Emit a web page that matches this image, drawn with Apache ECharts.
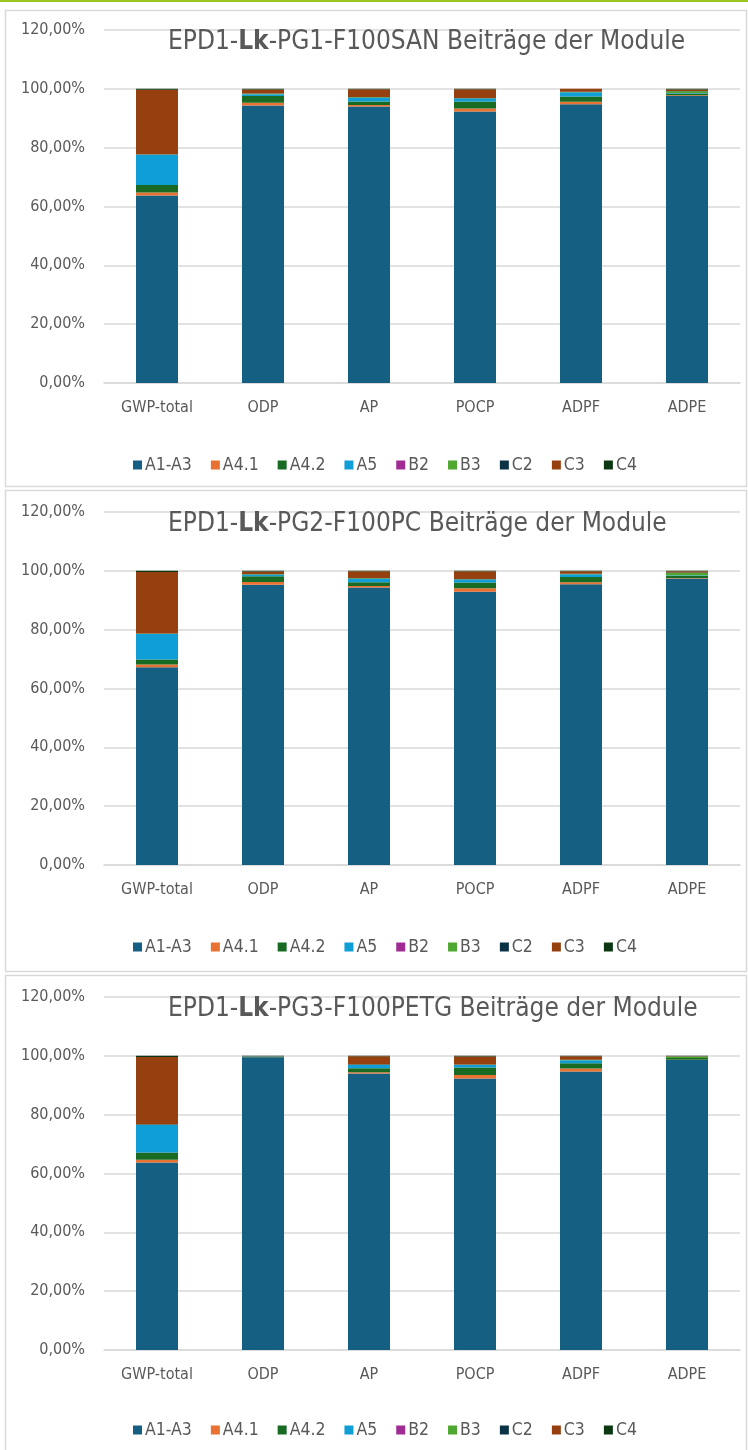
<!DOCTYPE html>
<html><head><meta charset="utf-8">
<script src="https://cdn.jsdelivr.net/npm/echarts@6/dist/echarts.min.js"></script>
<style>html,body{margin:0;padding:0;background:#fff}#c{width:748px;height:1450px}</style>
</head><body><div id="c"></div>
<script>
const categories = ['GWP-total','ODP','AP','POCP','ADPF','ADPE'];
const modules = ['A1-A3','A4.1','A4.2','A5','B2','B3','C2','C3','C4'];
const titles = ['PG1-F100SAN','PG2-F100PC','PG3-F100PETG'];

// PG1-F100SAN
const pg1_A1A3 = [63.7, 94.3, 94.0, 92.3, 94.8, 97.6];
const pg1_A41  = [1.1, 1.0, 0.5, 1.0, 0.8, 0.2];
const pg1_A42  = [2.5, 2.3, 1.2, 2.4, 1.8, 0.6];
const pg1_A5   = [10.3, 0.6, 1.3, 1.0, 1.4, 0.2];
const pg1_B2   = [0, 0, 0, 0, 0, 0];
const pg1_B3   = [0.1, 0.1, 0.1, 0.1, 0.1, 0.6];
const pg1_C2   = [0.1, 0.1, 0.1, 0.1, 0.1, 0.1];
const pg1_C3   = [21.9, 1.4, 2.7, 3.0, 1.0, 0.5];
const pg1_C4   = [0.3, 0.2, 0.1, 0.1, 0.0, 0.2];

// PG2-F100PC
const pg2_A1A3 = [67.2, 95.3, 94.3, 92.9, 95.4, 97.4];
const pg2_A41  = [1.0, 0.9, 0.55, 1.15, 0.7, 0.2];
const pg2_A42  = [1.7, 2.0, 1.25, 2.0, 1.8, 0.7];
const pg2_A5   = [8.6, 0.5, 1.25, 1.0, 0.9, 0.2];
const pg2_B2   = [0, 0, 0, 0, 0, 0];
const pg2_B3   = [0.1, 0.1, 0.1, 0.1, 0.1, 0.8];
const pg2_C2   = [0.1, 0.1, 0.1, 0.1, 0.1, 0.1];
const pg2_C3   = [20.9, 0.9, 2.35, 2.65, 0.9, 0.5];
const pg2_C4   = [0.4, 0.2, 0.1, 0.1, 0.1, 0.1];

// PG3-F100PETG
const pg3_A1A3 = [63.7, 99.5, 94.0, 92.3, 94.7, 98.6];
const pg3_A41  = [1.0, 0.05, 0.45, 1.15, 1.0, 0.05];
const pg3_A42  = [2.4, 0.25, 1.35, 2.6, 1.8, 0.6];
const pg3_A5   = [9.4, 0.02, 1.1, 0.8, 1.0, 0.05];
const pg3_B2   = [0, 0, 0, 0, 0, 0];
const pg3_B3   = [0.1, 0.05, 0.1, 0.1, 0.1, 0.5];
const pg3_C2   = [0.1, 0.03, 0.1, 0.1, 0.1, 0.05];
const pg3_C3   = [22.9, 0.05, 2.8, 2.75, 1.2, 0.1];
const pg3_C4   = [0.4, 0.05, 0.1, 0.2, 0.1, 0.05];

const chartData = [
  [pg1_A1A3, pg1_A41, pg1_A42, pg1_A5, pg1_B2, pg1_B3, pg1_C2, pg1_C3, pg1_C4],
  [pg2_A1A3, pg2_A41, pg2_A42, pg2_A5, pg2_B2, pg2_B3, pg2_C2, pg2_C3, pg2_C4],
  [pg3_A1A3, pg3_A41, pg3_A42, pg3_A5, pg3_B2, pg3_B3, pg3_C2, pg3_C3, pg3_C4]
];

const colors = ['#156082','#E97132','#196B24','#0F9ED5','#A02B93','#4EA72E','#0B3346','#96400F','#0B3812'];

const FONT = 'Liberation Sans Narrow, DejaVu Sans Condensed, Liberation Sans, sans-serif';
const TXT = '#595959';

// layout per panel
const panels = [
  {top: 10, bottom: 486, gridTop: 30, gridH: 353, legendY: 451, titleY: 24},
  {top: 490, bottom: 971, gridTop: 512, gridH: 353, legendY: 933, titleY: 506},
  {top: 975, bottom: 1460, gridTop: 997, gridH: 353, legendY: 1416, titleY: 991}
];

const option = {
  animation: false,
  color: colors,
  title: [], grid: [], xAxis: [], yAxis: [], legend: [], series: [],
  graphic: [
    {type:'rect', shape:{x:0,y:0,width:748,height:2}, style:{fill:'#9CC41E'}, z:100}
  ]
};

panels.forEach((p, k) => {
  option.graphic.push({type:'rect', shape:{x:5.5, y:p.top+0.5, width:741, height:p.bottom-p.top}, style:{fill:'none', stroke:'#D9D9D9', lineWidth:1.5}, z:-1});
  option.title.push({
    text: '{n|EPD1-}{b|Lk}{n|-' + titles[k] + ' Beiträge der Module}',
    left: 163, top: p.titleY,
    textStyle: {fontWeight: 'normal', fontFamily: FONT, fontSize: 26, color: TXT, rich: {
      n: {fontFamily: FONT, fontSize: 26, color: TXT, fontWeight: 'normal'},
      b: {fontFamily: FONT, fontSize: 26, color: TXT, fontWeight: 'bold'}
    }}
  });
  option.grid.push({left: 104, width: 636, top: p.gridTop, height: p.gridH});
  option.xAxis.push({
    type: 'category', gridIndex: k, data: categories,
    axisLine: {lineStyle: {color: '#D9D9D9', width: 1.5}},
    axisTick: {show: false},
    axisLabel: {color: TXT, fontFamily: FONT, fontSize: 16, margin: 17}
  });
  option.yAxis.push({
    type: 'value', gridIndex: k, min: 0, max: 120, interval: 20,
    axisLine: {show: false}, axisTick: {show: false},
    splitLine: {lineStyle: {color: '#D9D9D9', width: 1.5}},
    axisLabel: {color: TXT, fontFamily: FONT, fontSize: 16, margin: 19,
      formatter: v => v.toFixed(2).replace('.', ',') + '%'}
  });
  option.legend.push({
    data: modules, left: 128, top: p.legendY, icon: 'rect',
    itemWidth: 9, itemHeight: 9, itemGap: 19,
    textStyle: {color: TXT, fontFamily: FONT, fontSize: 17.5, padding: [0,0,0,-2]}
  });
  modules.forEach((m, i) => {
    option.series.push({
      type: 'bar', name: m, stack: 'st' + k, xAxisIndex: k, yAxisIndex: k,
      barWidth: 42, data: chartData[k][i],
      itemStyle: {color: colors[i]}
    });
  });
});

const chart = echarts.init(document.getElementById('c'), null, {renderer: 'canvas'});
chart.setOption(option);
</script></body></html>
